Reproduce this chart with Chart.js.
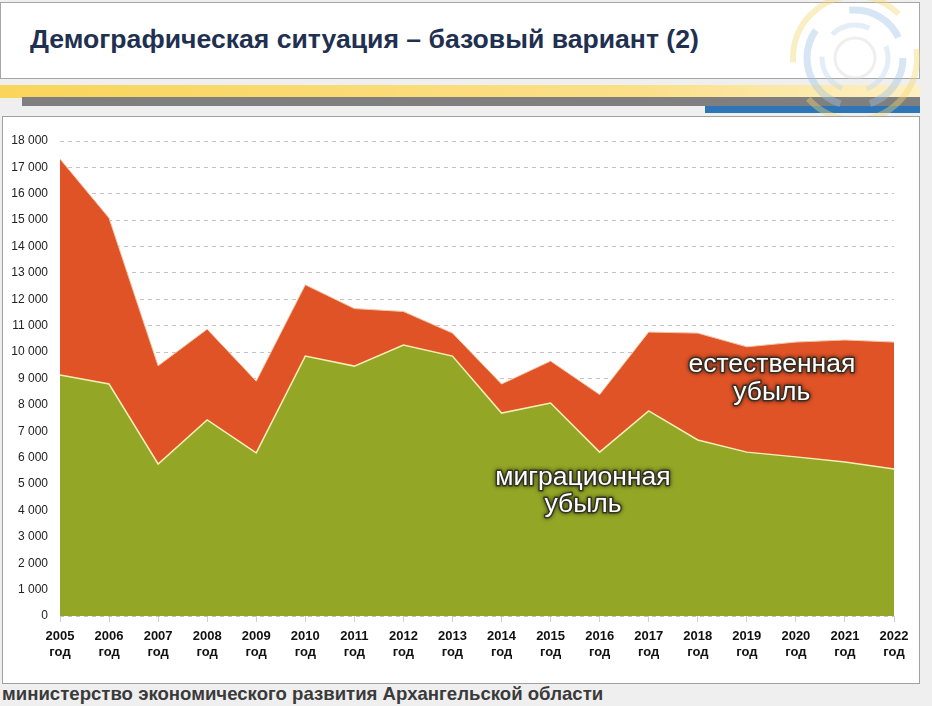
<!DOCTYPE html>
<html lang="ru">
<head>
<meta charset="utf-8">
<script src="https://cdn.jsdelivr.net/npm/chart.js@4.4.0/dist/chart.umd.min.js"></script>
<style>
  body { margin: 0; width: 932px; height: 706px; background: #efefef; position: relative; overflow: hidden; font-family: "Liberation Sans", Arial, sans-serif; }
  #titlebox { position: absolute; left: 0; top: 2px; width: 918px; height: 75px; background: #fff; border: 1px solid #a6a6a6; }
  #title { position: absolute; left: 30px; top: 24px; font-size: 26.6px; font-weight: bold; color: #1f3050; white-space: nowrap; }
  #yellow { position: absolute; left: 0; top: 85px; width: 920px; height: 13px; background: linear-gradient(to right, #f9d55a, #fbe08a 70%, #fdf0c4); }
  #grey { position: absolute; left: 22px; top: 97px; width: 898px; height: 9px; background: #7f7f7f; }
  #blue { position: absolute; left: 705px; top: 106px; width: 215px; height: 7px; background: #2e75b6; }
  #logo { position: absolute; left: 787px; top: -12px; }
  #panel { position: absolute; left: 2px; top: 116px; width: 916px; height: 566px; background: #fff; border: 1px solid #a0a0a0; }
  #wrap { position: absolute; left: 0; top: 115px; width: 920px; height: 568px; }
  #footer { position: absolute; left: 2px; top: 683px; font-size: 18.6px; font-weight: bold; color: #3a3a3a; white-space: nowrap; }
</style>
</head>
<body>
<div id="titlebox"></div>
<div id="title">Демографическая ситуация – базовый вариант (2)</div>
<div id="yellow"></div>
<div id="grey"></div>
<div id="blue"></div>
<svg id="logo" width="140" height="140" viewBox="0 0 140 140">
  <g fill="none" opacity="0.4">
    <circle cx="68" cy="70" r="62" stroke="#f5d76e" stroke-width="6" stroke-dasharray="150 40"/>
    <circle cx="68" cy="70" r="48" stroke="#9cc3e6" stroke-width="7" stroke-dasharray="60 30 90 40"/>
    <circle cx="68" cy="70" r="33" stroke="#bdd7ee" stroke-width="5" stroke-dasharray="40 25"/>
    <circle cx="68" cy="70" r="20" stroke="#d9d9d9" stroke-width="3"/>
  </g>
</svg>
<div id="panel"></div>
<div id="wrap"><canvas id="demoChart"></canvas></div>
<div id="footer">министерство экономического развития Архангельской области</div>

<script>
const years = ['2005', '2006', '2007', '2008', '2009', '2010', '2011', '2012', '2013',
  '2014', '2015', '2016', '2017', '2018', '2019', '2020', '2021', '2022'];
// миграционная убыль (нижняя область)
const migration = [9130, 8790, 5760, 7430, 6180, 9850, 9470, 10270, 9850,
  7690, 8070, 6210, 7770, 6670, 6210, 6030, 5840, 5570];
// естественная убыль (верхняя область, поверх миграционной)
const natural = [8190, 6290, 3720, 3440, 2720, 2700, 2180, 1270, 870,
  1100, 1590, 2180, 2990, 4050, 3990, 4350, 4620, 4810];
const yMax = 18000;
const yStep = 1000;

// подписи внутри областей: [индекс года, значение, текст]
const areaLabels = [
  [10.66, 5230, 'миграционная'],
  [10.66, 4210, 'убыль'],
  [14.51, 9510, 'естественная'],
  [14.51, 8450, 'убыль']
];

const labelsPlugin = {
  id: 'areaLabels',
  afterDatasetsDraw(chart) {
    const { ctx, scales } = chart;
    ctx.save();
    ctx.font = '26.5px "Liberation Sans", Arial, sans-serif';
    ctx.textAlign = 'center';
    ctx.textBaseline = 'middle';
    areaLabels.forEach(([i, v, text]) => {
      const x = scales.x.getPixelForValue(i);
      const y = scales.y.getPixelForValue(v);
      ctx.shadowColor = 'rgba(0,0,0,0.7)';
      ctx.shadowBlur = 4;
      ctx.lineJoin = 'round';
      ctx.lineWidth = 3;
      ctx.strokeStyle = 'rgba(45,45,35,0.85)';
      ctx.strokeText(text, x, y);
      ctx.shadowBlur = 0;
      ctx.fillStyle = '#ffffff';
      ctx.fillText(text, x, y);
    });
    ctx.restore();
  }
};

new Chart(document.getElementById('demoChart'), {
  type: 'line',
  data: {
    labels: years.map(y => [y, 'год']),
    datasets: [
      {
        label: 'миграционная убыль',
        data: migration,
        fill: 'origin',
        backgroundColor: '#94a626',
        borderColor: '#f4efb4',
        borderWidth: 1.5,
        pointRadius: 0,
        tension: 0
      },
      {
        label: 'естественная убыль',
        data: natural,
        fill: '-1',
        backgroundColor: '#e05327',
        borderColor: '#f0c9a8',
        borderWidth: 1,
        pointRadius: 0,
        tension: 0
      }
    ]
  },
  options: {
    responsive: true,
    maintainAspectRatio: false,
    animation: false,
    layout: { padding: { top: 26, right: 26, left: 0, bottom: 0 } },
    plugins: { legend: { display: false }, tooltip: { enabled: false } },
    scales: {
      x: {
        offset: false,
        grid: { drawOnChartArea: false, drawTicks: true, tickLength: 6, color: '#d0d0d0' },
        border: { display: false },
        ticks: {
          padding: 7,
          maxRotation: 0,
          autoSkip: false,
          color: '#111',
          font: { family: '"Liberation Sans", Arial, sans-serif', size: 13, weight: 'bold' }
        },
        afterFit: s => { s.height = 67; }
      },
      y: {
        stacked: true,
        min: 0,
        max: yMax,
        grid: { color: '#c4c4c4', drawTicks: false },
        border: { display: false, dash: [4, 4] },
        ticks: {
          stepSize: yStep,
          padding: 12,
          color: '#222',
          font: { family: '"Liberation Sans", Arial, sans-serif', size: 12 },
          callback: v => String(v).replace(/\B(?=(\d{3})+(?!\d))/g, ' ')
        },
        afterFit: s => { s.width = 60; }
      }
    }
  },
  plugins: [labelsPlugin]
});
</script>
</body>
</html>
